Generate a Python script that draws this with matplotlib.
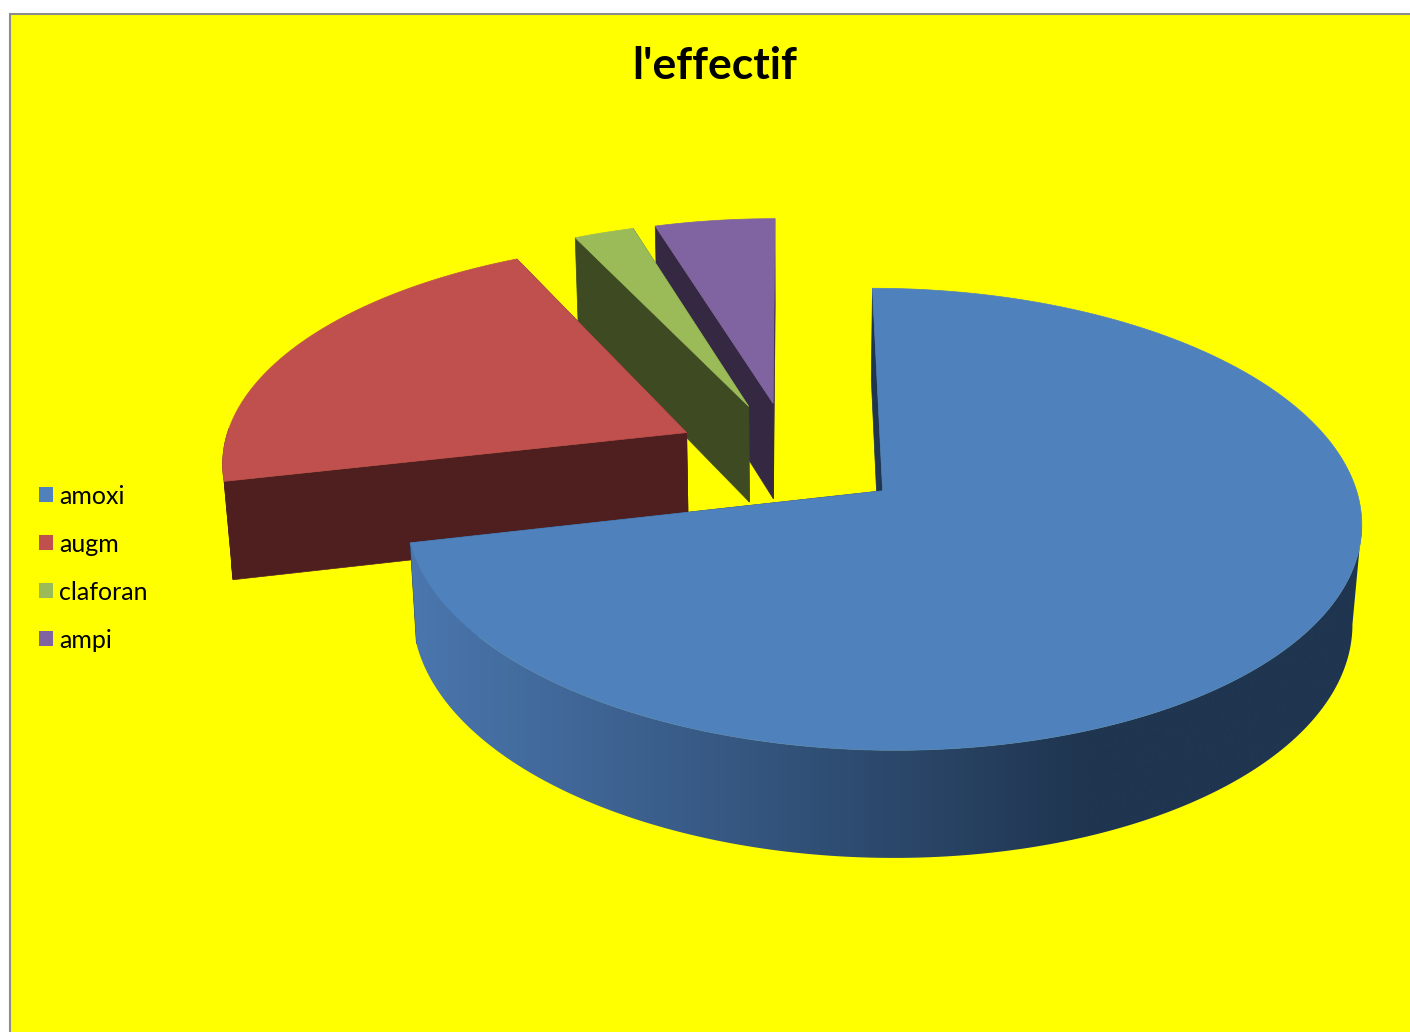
import numpy as np
import matplotlib
matplotlib.use("Agg")
import matplotlib.pyplot as plt
from matplotlib.colors import LinearSegmentedColormap
from matplotlib.patches import Patch, Polygon, Rectangle

labels = ["amoxi", "augm", "claforan", "ampi"]
values = [30, 9, 1, 2]
top_colors = ["#4f81bd", "#c0504d", "#9bbb59", "#8064a2"]
side_colors = ["#1f3550", "#4f1f20", "#3e4a22", "#352843"]

# projection of the tilted pie, all in pixels
XC, YC = 790, 456
A, B, D = 465, 219, 99
K, M = 0.121, 0.016
EXPLODE = 0.25

wall_cmap = LinearSegmentedColormap.from_list("wall", ["#4a76ad", "#1f3550"])


def project(u, v, z=0.0):
    w = 1 + K * v + M * z
    return np.column_stack([XC + A * u / w, YC + (-B * v + D * z) / w])


def arc(t0, t1, n=600):
    return np.radians(np.linspace(t0, t1, n))


fig = plt.figure(figsize=(14.1, 10.32), dpi=100)
ax = fig.add_axes([0, 0, 1, 1])
ax.axis("off")
ax.add_patch(Rectangle((10, 14), 1420, 1040, facecolor="#ffff00", edgecolor="#8c8c8c", lw=1.5))

angles = np.cumsum([0] + values) / sum(values) * 360
slices = []
for i in range(len(values)):
    mid = np.radians((angles[i] + angles[i + 1]) / 2)
    slices.append((i, angles[i], angles[i + 1], EXPLODE * np.sin(mid), EXPLODE * np.cos(mid)))

# back slices first, amoxi goes on top of everything
for i, t0, t1, ox, oy in slices[::-1]:
    ts = arc(t0, t1)
    u = ox + np.sin(ts)
    v = oy + np.cos(ts)
    # cut faces
    for t in (t0, t1):
        r = np.radians(t)
        pu = np.array([ox, ox + np.sin(r)])
        pv = np.array([oy, oy + np.cos(r)])
        pts = np.vstack([project(pu, pv, 0), project(pu[::-1], pv[::-1], 1)])
        ax.add_patch(Polygon(pts, closed=True, fc=side_colors[i], ec=side_colors[i], lw=0.5, zorder=2))
    # outer wall, only the front part shows
    front = np.cos(ts) < 0.02
    if i == 0:
        # wall starts where the top edge is furthest right, so the closing edge is the silhouette
        front = np.arange(len(ts)) >= np.argmax(project(u, v)[:, 0])
    if front.any():
        uu = u[front]
        vv = v[front]
        pts = np.vstack([project(uu, vv, 0), project(uu[::-1], vv[::-1], 1)])
        if i == 0:
            wall = Polygon(pts, closed=True, fc="none", ec="none", zorder=3)
            ax.add_patch(wall)
            xs = np.linspace(395, 1410, 512)
            shade = np.clip((xs - 415) / (1090 - 415), 0, 1)
            im = ax.imshow(shade[None, :], cmap=wall_cmap, vmin=0, vmax=1, aspect="auto",
                           extent=(395, 1410, 1032, 0), zorder=3)
            im.set_clip_path(wall)
        else:
            ax.add_patch(Polygon(pts, closed=True, fc=side_colors[i], ec=side_colors[i], lw=0.5, zorder=2))
    top = np.vstack([project(np.array([ox]), np.array([oy])), project(u, v)])
    ax.add_patch(Polygon(top, closed=True, fc=top_colors[i], ec=top_colors[i], lw=0.5,
                         zorder=4 if i == 0 else 2))

ax.set_xlim(0, 1410)
ax.set_ylim(1032, 0)

ax.text(715, 66, "l'effectif", ha="center", va="center", fontsize=32, fontweight="bold",
        family="Lato", color="black")

handles = [Patch(facecolor=c, edgecolor="none") for c in top_colors]
fig.legend(handles, labels, loc="center left", bbox_to_anchor=(39 / 1410, 1 - 568 / 1032), frameon=False,
           prop={"family": "Lato", "size": 18}, handlelength=0.56, handleheight=0.56,
           handletextpad=0.25, labelspacing=1.0, borderpad=0, borderaxespad=0)

fig.savefig("out.png", dpi=100)
